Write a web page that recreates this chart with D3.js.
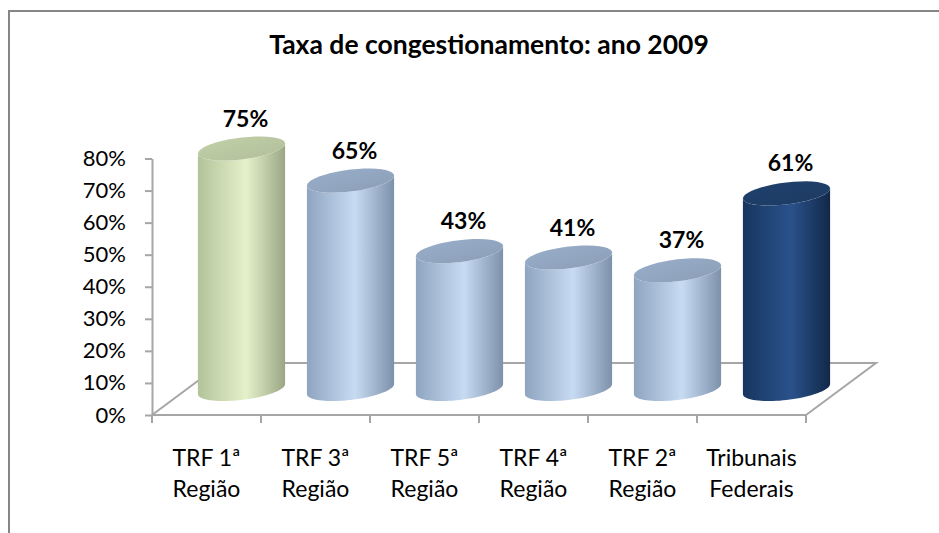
<!DOCTYPE html>
<html>
<head>
<meta charset="utf-8">
<script src="https://cdn.jsdelivr.net/npm/d3@7"></script>
<style>
    body { margin: 0; background: #fff; }
    svg { display: block; }
    text { font-family: Lato, "Liberation Sans", sans-serif; fill: #000; }
</style>
</head>
<body>
<div id="chart"></div>
<script>
const categories = ["TRF 1ª Região", "TRF 3ª Região", "TRF 5ª Região", "TRF 4ª Região", "TRF 2ª Região", "Tribunais Federais"];
const values = [75, 65, 43, 41, 37, 61];
const valueLabels = ["75%", "65%", "43%", "41%", "37%", "61%"];
const yTicks = [0, 10, 20, 30, 40, 50, 60, 70, 80];
const titleText = "Taxa de congestionamento: ano 2009";

const width = 939;
const height = 533;
const depth = { dx: 70, dy: -52 };   // floor depth (oblique)
const gray = "#a6a6a6";

// bar colour sets: [left edge, highlight, right edge, cap]
const palettes = {
    green: ["#b3c399", "#e4f1cb", "#9ba784", "#b9c7a1"],
    blue: ["#8fa4bf", "#c7dbf3", "#7d91ab", "#92a6c0"],
    navy: ["#173660", "#2a528b", "#122848", "#1e3e68"]
};
const barPalette = ["green", "blue", "blue", "blue", "blue", "navy"];

const x = d3.scaleBand().domain(categories).range([152, 806]).padding(0);
const y = d3.scaleLinear().domain([0, 80]).range([415, 158.5]);

const svg = d3.select("#chart").append("svg")
    .attr("width", width)
    .attr("height", height);

const defs = svg.append("defs");
Object.entries(palettes).forEach(([name, c]) => {
    const g = defs.append("linearGradient").attr("id", "body-" + name)
        .attr("x1", 0).attr("x2", 1).attr("y1", 0).attr("y2", 0);
    g.append("stop").attr("offset", 0).attr("stop-color", c[0]);
    g.append("stop").attr("offset", 0.55).attr("stop-color", c[1]);
    g.append("stop").attr("offset", 1).attr("stop-color", c[2]);
    const t = defs.append("linearGradient").attr("id", "cap-" + name)
        .attr("x1", 0).attr("x2", 1).attr("y1", 0).attr("y2", 1);
    t.append("stop").attr("offset", 0).attr("stop-color", d3.color(c[3]).brighter(0.15));
    t.append("stop").attr("offset", 1).attr("stop-color", d3.color(c[3]).darker(0.15));
});

// chart frame (cropped: only top and left edges show)
svg.append("path")
    .attr("d", `M9,${height} V11 H${width}`)
    .attr("fill", "none")
    .attr("stroke", "#868686")
    .attr("stroke-width", 2);

// title
svg.append("text")
    .attr("x", 489)
    .attr("y", 54)
    .attr("text-anchor", "middle")
    .style("font-weight", "bold")
    .style("font-size", "26.5px")
    .text(titleText);

// floor outline
const x0 = x.range()[0], x1 = x.range()[1], yb = y(0);
svg.append("path")
    .attr("d", `M${x0},${yb} L${x0 + depth.dx},${yb + depth.dy} H${x1 + depth.dx} L${x1},${yb}`)
    .attr("fill", "none")
    .attr("stroke", gray)
    .attr("stroke-width", 2);

// value axis
const yAxis = d3.axisLeft(y)
    .tickValues(yTicks)
    .tickFormat(d => d + "%")
    .tickSize(7)
    .tickSizeOuter(0)
    .tickPadding(19);
const ya = svg.append("g")
    .attr("transform", `translate(${x0},0)`)
    .call(yAxis);
ya.select(".domain").attr("stroke", gray).attr("stroke-width", 2);
ya.selectAll(".tick line").attr("stroke", gray).attr("stroke-width", 2);
ya.selectAll(".tick text")
    .style("font-size", "22px")
    .style("font-family", "Lato, 'Liberation Sans', sans-serif")
    .attr("fill", "#000");

// category axis line and ticks
svg.append("line")
    .attr("x1", x0).attr("x2", x1)
    .attr("y1", yb).attr("y2", yb)
    .attr("stroke", gray).attr("stroke-width", 2);
const edges = categories.map(c => x(c)).concat([x1]);
svg.selectAll(".xtick")
    .data(edges)
    .enter().append("line")
    .attr("class", "xtick")
    .attr("x1", d => d).attr("x2", d => d)
    .attr("y1", yb).attr("y2", yb + 8)
    .attr("stroke", gray).attr("stroke-width", 2);

// category labels, two lines each
const catLabel = svg.selectAll(".cat")
    .data(categories)
    .enter().append("text")
    .attr("class", "cat")
    .attr("text-anchor", "middle")
    .style("font-size", "23px");
catLabel.each(function (d) {
    const cut = d.lastIndexOf(" ");
    const lines = [d.slice(0, cut), d.slice(cut + 1)];
    const cx = x(d) + x.bandwidth() / 2;
    d3.select(this).selectAll("tspan")
        .data(lines)
        .enter().append("tspan")
        .attr("x", cx)
        .attr("y", (l, i) => 466 + i * 31)
        .text(l => l);
});

// cylinders
const rx = x.bandwidth() * 0.4;
const ry = 11;
const tilt = 0.115;   // shear of the ellipses

function ellipsePoints(cx, cy, from, to) {
    return d3.range(0, 41).map(i => {
        const t = from + (to - from) * i / 40;
        return [cx + rx * Math.cos(t), cy + ry * Math.sin(t) - tilt * rx * Math.cos(t)];
    });
}

const line = d3.line();
const mid = { dx: depth.dx / 2, dy: depth.dy / 2 };

const bars = svg.selectAll(".bar")
    .data(categories)
    .enter().append("g")
    .attr("class", "bar");

bars.each(function (d, i) {
    const g = d3.select(this);
    const cx = x(d) + x.bandwidth() / 2 + mid.dx;
    const yBot = y(0) + mid.dy;
    const yTop = y(values[i]) + mid.dy;
    const p = barPalette[i];

    const body = [[cx - rx, yTop + tilt * rx]]
        .concat(ellipsePoints(cx, yBot, Math.PI, 0))
        .concat([[cx + rx, yTop - tilt * rx]])
        .concat(ellipsePoints(cx, yTop, 0, Math.PI));
    g.append("path")
        .attr("d", line(body) + "Z")
        .attr("fill", `url(#body-${p})`);

    g.append("path")
        .attr("d", line(ellipsePoints(cx, yTop, 0, 2 * Math.PI)) + "Z")
        .attr("fill", `url(#cap-${p})`);

    g.append("text")
        .attr("x", cx + 4)
        .attr("y", yTop - 22)
        .attr("text-anchor", "middle")
        .style("font-weight", "bold")
        .style("font-size", "23px")
        .text(valueLabels[i]);
});
</script>
</body>
</html>
